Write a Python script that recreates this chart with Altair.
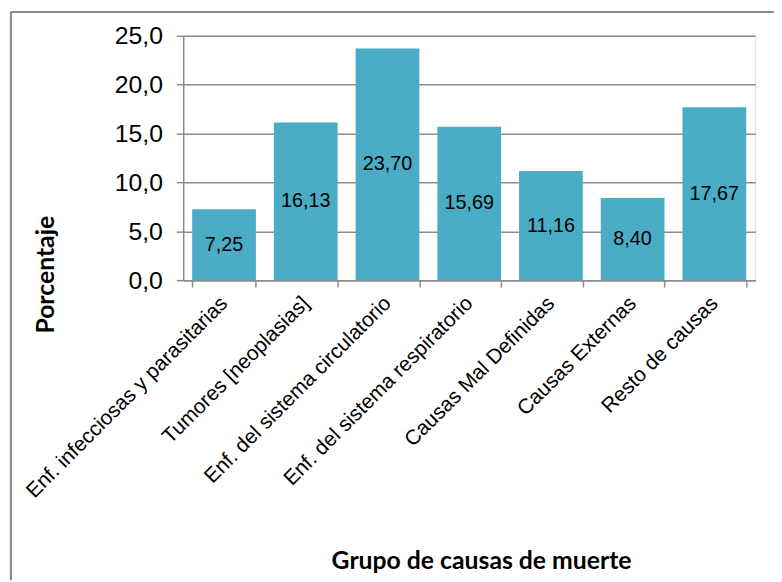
import altair as alt
import pandas as pd

categories = [
    "Enf. infecciosas y parasitarias",
    "Tumores [neoplasias]",
    "Enf. del sistema circulatorio",
    "Enf. del sistema respiratorio",
    "Causas Mal Definidas",
    "Causas Externas",
    "Resto de causas",
]
values = [7.25, 16.13, 23.70, 15.69, 11.16, 8.40, 17.67]

df = pd.DataFrame({"cat": categories, "val": values})

W, H = 578, 247
BAR = "#4BACC6"
GRID = "#8c8c8c"

x_enc = alt.X(
    "cat:N",
    sort=categories,
    scale=alt.Scale(paddingInner=0.22, paddingOuter=0.11),
    axis=alt.Axis(
        title="Grupo de causas de muerte",
        titleFont="Lato",
        titleFontSize=25,
        titleFontWeight="bold",
        titleColor="black",
        titleY=283,
        titleBaseline="middle",
        titleX=301,
        labelAngle=-45,
        labelAlign="right",
        labelBaseline="middle",
        labelFont="Liberation Sans",
        labelFontSize=21,
        labelColor="black",
        labelPadding=13,
        labelLimit=400,
        tickBand="extent",
        tickSize=7,
        tickColor=GRID,
        tickWidth=1.5,
        domainColor=GRID,
        domainWidth=1.5,
        grid=False,
    ),
)

y_scale = alt.Scale(domain=[0, 25], nice=False, padding=0, range=[H, 0])

y_enc = alt.Y(
    "val:Q",
    scale=y_scale,
    axis=alt.Axis(
        title="Porcentaje",
        titleFont="Lato",
        titleFontSize=25,
        titleFontWeight="bold",
        titleColor="black",
        titleAngle=270,
        titleAlign="center",
        titleBaseline="middle",
        titleX=-139,
        titleY=241,
        values=[0, 5, 10, 15, 20, 25],
        labelExpr="replace(format(datum.value, '.1f'), '.', ',')",
        labelFont="Liberation Sans",
        labelFontSize=25,
        labelColor="black",
        labelPadding=14,
        tickSize=7,
        tickColor=GRID,
        tickWidth=1.5,
        domainColor=GRID,
        domainWidth=1.5,
        gridColor=GRID,
        gridWidth=1.5,
    ),
)

bars = alt.Chart(df).mark_bar(color=BAR).encode(x=x_enc, y=y_enc)

labels = (
    alt.Chart(df)
    .transform_calculate(
        lbl="replace(format(datum.val, '.2f'), '.', ',')",
        mid="datum.val / 2",
    )
    .mark_text(font="Liberation Sans", fontSize=20, color="black", baseline="middle")
    .encode(x=alt.X("cat:N", sort=categories), y=alt.Y("mid:Q", scale=y_scale), text="lbl:N")
)

frame_left = alt.Chart(df).mark_rule(color="#8c8c8c", strokeWidth=2, clip=False).encode(
    x=alt.value(-174), y=alt.value(-24), y2=alt.value(560)
)
frame_top = alt.Chart(df).mark_rule(color="#8c8c8c", strokeWidth=2, clip=False).encode(
    x=alt.value(-174), x2=alt.value(600), y=alt.value(-24)
)

chart = (
    alt.layer(bars, labels, frame_left, frame_top)
    .properties(
        width=W,
        height=H,
        autosize=alt.AutoSizeParams(type="none"),
        padding={"left": 177, "top": 25, "right": 19, "bottom": 300},
    )
    .configure_view(stroke=None)
    .configure(background="white")
)

chart.save("out.html", embed_options={"renderer": "svg", "actions": False})
